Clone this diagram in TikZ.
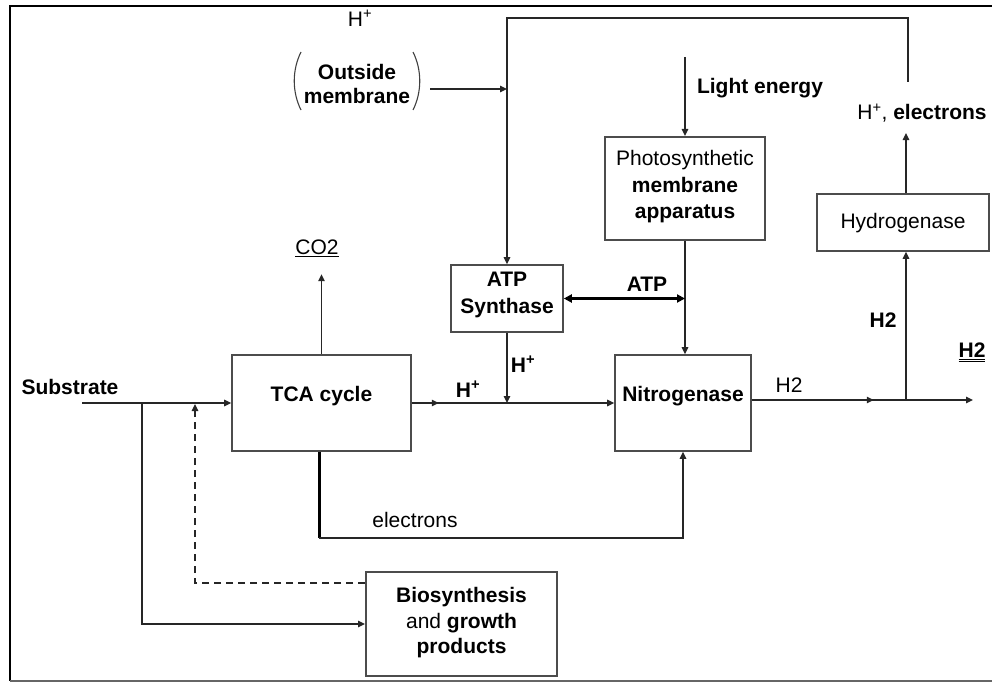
\documentclass[tikz,border=0pt]{standalone}
\usepackage{fontspec}
\setmainfont{Liberation Sans}
\usetikzlibrary{arrows.meta}
\tikzset{
  box/.style={draw=black!70, line width=1.6pt, inner sep=0pt},
  conn/.style={draw=black!85, line width=1.4pt},
  tip/.style={-{Triangle[length=7pt,width=6.5pt]}},
  lbl/.style={font=\fontsize{21}{26}\selectfont, inner sep=0pt, align=center},
  blbl/.style={lbl, font=\fontsize{21}{26}\selectfont\bfseries},
  paren/.style={draw=black!75, line width=1.1pt},
}
\begin{document}
\begin{tikzpicture}[x=1pt,y=-1pt]
\useasboundingbox (0,0) rectangle (992,682);
% frame
\draw[line width=2.5pt] (992,6) -- (10,6) -- (10,681);
\draw[line width=1.5pt, black!60] (10,681) -- (992,681);

% boxes
\node[box, minimum width=179pt, minimum height=96pt] (tca) at (321.5,403) {};
\node[blbl] (tcat) at (321.5,396) {TCA cycle};
\node[box, minimum width=136pt, minimum height=96pt] (nit) at (683,403) {};
\node[blbl] (nitt) at (683,396) {Nitrogenase};
\node[box, minimum width=112pt, minimum height=67pt] (atp) at (507,298.5) {};
\node[blbl, font=\fontsize{21}{27}\selectfont\bfseries] (atpt) at (507,294.5) {ATP\\Synthase};
\node[box, line width=2.2pt, minimum width=160pt, minimum height=103pt] (pho) at (685,188.5) {};
\node[lbl, font=\fontsize{21}{26.5}\selectfont] (phot) at (685,187) {Photosynthetic\\\textbf{membrane}\\\textbf{apparatus}};
\node[box, minimum width=172pt, minimum height=57pt] (hyd) at (903,222.5) {};
\node[lbl] (hydt) at (903,223) {Hydrogenase};
\node[box, line width=2pt, minimum width=191pt, minimum height=104pt] (bio) at (461.5,624) {};
\node[lbl, font=\fontsize{21}{25.5}\selectfont] (biot) at (461.5,623) {\textbf{Biosynthesis}\\and \textbf{growth}\\\textbf{products}};

% labels
\node[blbl] (subs) at (70,387) {Substrate};
\node[lbl] (co2) at (317,248) {\underline{CO2}};
\node[lbl] (hp0) at (360,18) {H\textsuperscript{+}};
\node[blbl, font=\fontsize{21}{24}\selectfont\bfseries] (outm) at (357,84) {Outside\\membrane};
\draw[paren] (301,52) .. controls (292,70) and (292,92) .. (301,110);
\draw[paren] (413,52) .. controls (422,70) and (422,92) .. (413,110);
\node[blbl] (light) at (760,88) {Light energy};
\node[lbl] (hpe) at (922,113) {H\textsuperscript{+}, \textbf{electrons}};
\node[blbl] (atpl) at (647,284) {ATP};
\node[blbl] (hp1) at (468,389) {H\textsuperscript{+}};
\node[blbl] (hp2) at (523,364) {H\textsuperscript{+}};
\node[lbl] (elec) at (415,520) {electrons};
\node[lbl] (h2a) at (789,385) {H2};
\node[blbl] (h2b) at (883,320) {H2};
\node[blbl] (h2c) at (972,352) {\underline{\underline{H2}}};

% coordinates
\coordinate (lt) at (507,18);
\coordinate (rt) at (908,18);
\coordinate (rb) at (908,82);
\coordinate (om) at (430,89);
\coordinate (lg) at (685,57);
\coordinate (s0) at (82,403);
\coordinate (s1) at (142,403);
\coordinate (d1) at (195,583);
\coordinate (e1) at (319,538);
\coordinate (h2e) at (973,400);
\coordinate (j) at (906,400);
\coordinate (he) at (906,133);

% connectors
\draw[conn,tip] (rb) -- (rt) -- (lt) -- (atp.north);
\draw[conn,tip] (om) -- (om -| lt);
\draw[conn,tip] (lg) -- (pho.north);
\draw[conn,tip] (pho.south) -- (pho.south |- nit.north);
\draw[line width=3pt, {Triangle[length=8pt,width=8pt]}-{Triangle[length=8pt,width=8pt]}] (atp.east) -- (atp.east -| pho.south);
\draw[conn,tip] (tca.east) -- ++(27,0);
\draw[conn,tip] (tca.east) -- (nit.west);
\draw[conn,tip] (atp.south) -- (atp.south |- tca.east);
\draw[line width=3pt] (e1 |- tca.south) -- (e1);
\draw[conn,tip] (e1) -- (e1 -| nit.south) -- (nit.south);
\draw[conn,tip] (s0) -- (tca.west);
\draw[conn,tip] (s1) -- (s1 |- bio.west) -- (bio.west);
\draw[conn,line width=1.1pt,dash pattern=on 7pt off 5pt,tip,shorten >=1pt] (bio.west |- d1) -- (d1) -- (d1 |- s0);
\draw[conn,tip] (tca.north) -- ++(0,-80);
\draw[conn,tip] (nit.east |- h2e) -- ++(122,0);
\draw[conn,tip] (nit.east |- h2e) -- (h2e);
\draw[conn,tip] (j) -- (j |- hyd.south);
\draw[conn,tip] (hyd.north -| he) -- (he);
\end{tikzpicture}
\end{document}
